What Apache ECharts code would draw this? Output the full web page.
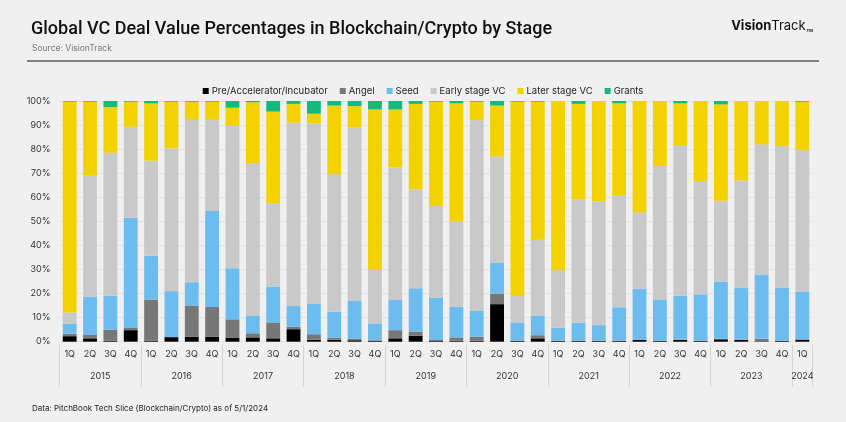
<!DOCTYPE html>
<html><head><meta charset="utf-8">
<script src="https://cdn.jsdelivr.net/npm/echarts@6/dist/echarts.min.js"></script>
<style>html,body{margin:0;padding:0;background:#f0f0f0;}#c{width:846px;height:422px;}</style>
</head><body><div id="c"></div>
<script>
const quarters = ['1Q','2Q','3Q','4Q','1Q','2Q','3Q','4Q','1Q','2Q','3Q','4Q','1Q','2Q','3Q','4Q','1Q','2Q','3Q','4Q','1Q','2Q','3Q','4Q','1Q','2Q','3Q','4Q','1Q','2Q','3Q','4Q','1Q','2Q','3Q','4Q','1Q'];
const years = ['2015','2016','2017','2018','2019','2020','2021','2022','2023','2024'];
const quartersPerYear = [4,4,4,4,4,4,4,4,4,1];
const preAccel = [2.3,1.4,0.4,4.8,0.4,1.9,2.1,2.1,1.7,1.8,1.4,5.2,0.8,0.8,0.6,0.3,1.4,2.5,0.5,0.4,0.4,15.6,0.3,1.4,0.3,0.3,0.3,0.3,0.7,0.3,0.7,0.3,1.0,0.7,0.2,0.3,0.8];
const angel = [1.0,1.4,4.6,0.9,17.1,0.0,12.9,12.3,7.6,1.7,6.6,1.0,2.3,0.9,0.7,0.3,3.4,1.7,0.2,1.4,1.7,4.4,0.2,1.3,0.2,0.2,0.2,0.2,0.2,0.2,0.2,0.2,0.2,0.2,1.0,0.2,0.2];
const seed = [4.2,15.9,14.1,45.8,18.2,19.1,9.7,39.9,21.2,7.2,14.9,8.6,12.6,10.8,15.6,7.0,12.5,18.0,17.6,12.7,10.8,12.7,7.5,8.0,5.3,7.4,6.4,13.8,21.1,16.8,18.2,19.2,23.8,21.6,26.7,22.0,19.9];
const earlyVC = [4.6,50.6,59.4,37.8,39.5,59.3,67.8,38.2,59.2,63.4,34.6,76.2,74.9,57.2,72.0,22.2,55.1,41.1,38.1,35.4,79.2,44.2,11.0,32.0,24.0,51.2,51.5,46.6,31.8,55.7,62.6,47.1,33.6,44.5,54.1,58.8,58.8];
const laterVC = [87.6,30.4,19.0,10.4,23.8,19.4,7.2,7.2,7.5,25.4,38.1,7.8,4.1,28.4,9.0,66.7,24.1,35.5,43.3,49.1,7.6,21.2,80.7,57.0,70.2,39.7,41.6,38.1,46.2,27.0,17.3,33.2,40.0,33.0,18.0,18.7,20.0];
const grants = [0.3,0.3,2.5,0.3,1.0,0.3,0.3,0.3,2.8,0.5,4.4,1.2,5.3,1.9,2.1,3.5,3.5,1.2,0.3,1.0,0.3,1.9,0.3,0.3,0.0,1.2,0.0,1.0,0.0,0.0,1.0,0.0,1.4,0.0,0.0,0.0,0.3];
const yTicks = [0,10,20,30,40,50,60,70,80,90,100];

const seriesDefs = [
  ['Pre/Accelerator/Incubator', preAccel, '#000000'],
  ['Angel', angel, '#777777'],
  ['Seed', seed, '#6dbcef'],
  ['Early stage VC', earlyVC, '#c9c9c9'],
  ['Later stage VC', laterVC, '#f3d200'],
  ['Grants', grants, '#16b97c']
];

const yearCenters = [], yearBounds = [-0.5];
let start = 0;
quartersPerYear.forEach(n => { yearCenters.push(start + (n - 1) / 2); start += n; yearBounds.push(start - 0.5); });

const FONT = 'Inter, Roboto, sans-serif';
const chart = echarts.init(document.getElementById('c'), null, {renderer:'canvas'});
chart.setOption({
  backgroundColor: '#f0f0f0',
  textStyle: {fontFamily: FONT},
  title: [
    {text: 'Global VC Deal Value Percentages in Blockchain/Crypto by Stage', left: 26, top: 15,
     textStyle: {fontFamily: 'Roboto, sans-serif', fontSize: 18, fontWeight: 500, color: '#111'}},
    {text: 'Source: VisionTrack', left: 27, top: 39, textStyle: {fontSize: 8.5, fontWeight: 'normal', color: '#777'}},
    {text: '{b|Vision}{n|Track}{t| TM}', right: 28, top: 15,
     textStyle: {rich: {b: {fontSize: 13, fontWeight: 'bold', color: '#111', fontFamily: FONT},
                        n: {fontSize: 13, fontWeight: 'normal', color: '#111', fontFamily: FONT},
                        t: {fontSize: 4, color: '#111', fontFamily: FONT, verticalAlign:'bottom'}}}},
    {text: 'Data: PitchBook Tech Slice (Blockchain/Crypto) as of 5/1/2024', left: 27, top: 400,
     textStyle: {fontSize: 8, fontWeight: 'normal', color: '#222'}}
  ],
  graphic: [{type: 'line', shape: {x1: 27, y1: 61, x2: 819, y2: 61}, style: {stroke: '#111', lineWidth: 1.2}}],
  legend: {top: 81, left: 'center', itemWidth: 6, itemHeight: 6, itemGap: 12, icon: 'rect',
    textStyle: {fontSize: 9.5, color: '#222', padding: [0,0,0,-2]},
    data: seriesDefs.map(d => d[0])},
  grid: {left: 59.5, right: 33.5, top: 101, bottom: 80.3},
  xAxis: [
    {type: 'category', data: quarters, axisLine: {show: false}, axisTick: {show: false},
     axisLabel: {fontSize: 9, color: '#333', margin: 8, interval: 0}},
    {type: 'value', min: -0.5, max: 36.5, position: 'bottom', offset: 3,
     axisLine: {show: false}, splitLine: {show: false},
     axisTick: {show: true, customValues: yearBounds, length: 42, lineStyle: {color: '#d4d4d4', width: 1}},
     axisLabel: {customValues: yearCenters, margin: 27, fontSize: 9, color: '#333',
       formatter: v => { const i = yearCenters.findIndex(c => Math.abs(c - v) < 1e-6); return i >= 0 ? years[i] : ''; }}}
  ],
  yAxis: {type: 'value', min: 0, max: 100, interval: 10,
    axisLabel: {formatter: v => yTicks.includes(v) ? v + '%' : '', fontSize: 9, color: '#333', margin: 9},
    splitLine: {lineStyle: {color: '#e2e2e2', width: 1}}, axisLine: {show: false}, axisTick: {show: false}},
  series: seriesDefs.map(d => ({name: d[0], type: 'bar', stack: 'all', data: d[1], barWidth: '68%',
     itemStyle: {color: d[2]}, xAxisIndex: 0, emphasis: {disabled: true}})),
  animation: false
});
</script></body></html>
